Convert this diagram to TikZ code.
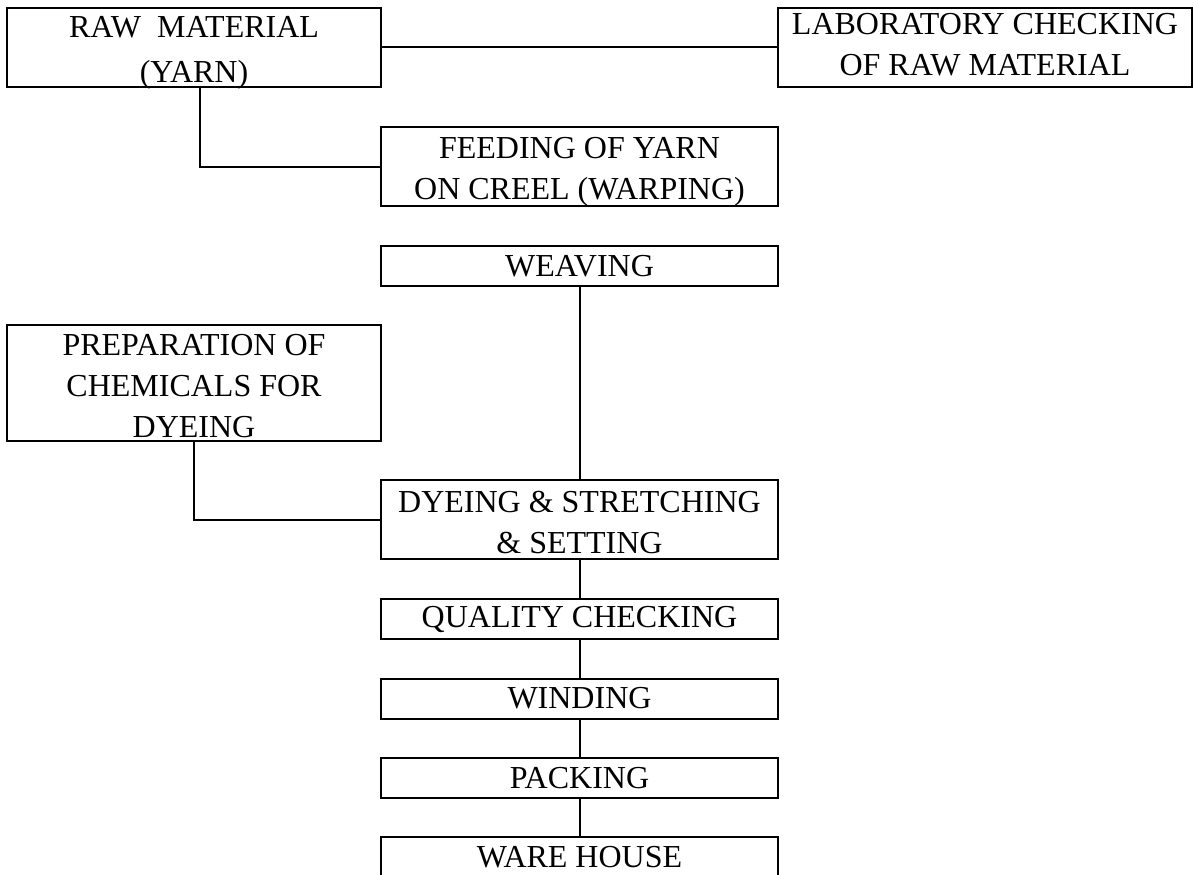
\documentclass[tikz,border=0pt]{standalone}
\usepackage{fontspec}
\setmainfont{Liberation Serif}
\begin{document}
\begin{tikzpicture}[x=1pt,y=1pt,line width=2pt,
  every node/.style={font=\fontsize{32}{41}\selectfont},
  stage/.style={draw,align=center,inner sep=0pt,minimum width=397pt},
  side/.style={draw,align=center,inner sep=0pt,minimum width=374pt}]
\useasboundingbox (0,0) rectangle (1194,-875);
\node[side,minimum height=79pt,text height=69pt,text depth=0pt] (raw) at (194,-47.5) {RAW\ \ MATERIAL\\[3pt](YARN)};
\node[draw,align=center,inner sep=0pt,minimum width=414pt,minimum height=79pt,text depth=6pt] (lab) at (985,-47.5) {LABORATORY CHECKING\\OF RAW MATERIAL};
\node[stage,minimum height=79pt,text height=66pt,text depth=0pt] (feed) at (579.5,-166.5) {FEEDING OF YARN\\ON CREEL (WARPING)};
\node[stage,minimum height=40pt] (weave) at (579.5,-266) {WEAVING};
\node[side,minimum height=116pt,text height=109pt,text depth=0pt] (prep) at (194,-383) {PREPARATION OF\\CHEMICALS FOR\\DYEING};
\node[stage,minimum height=79pt,text height=68pt,text depth=0pt] (dye) at (579.5,-519.5) {DYEING \& STRETCHING\\\& SETTING};
\node[stage,minimum height=40pt] (qual) at (579.5,-619) {QUALITY CHECKING};
\node[stage,minimum height=40pt] (wind) at (579.5,-698.5) {WINDING};
\node[stage,minimum height=40pt] (pack) at (579.5,-778) {PACKING};
\node[stage,minimum height=40pt] (ware) at (579.5,-857) {WARE HOUSE};
% links
\draw (raw.east) -- (lab.west);
\draw ([xshift=6pt]raw.south) |- (feed.west);
\draw (weave.south) -- (dye.north);
\draw (prep.south) |- (dye.west);
\draw (dye.south) -- (qual.north);
\draw (qual.south) -- (wind.north);
\draw (wind.south) -- (pack.north);
\draw (pack.south) -- (ware.north);
\end{tikzpicture}
\end{document}
